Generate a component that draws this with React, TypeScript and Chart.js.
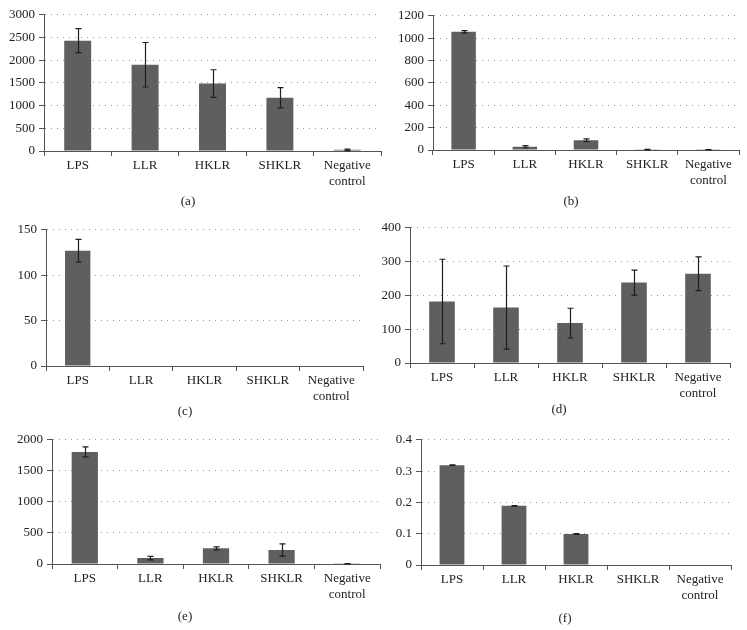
import React, { useEffect, useRef } from "react";
import { Chart, registerables } from "chart.js";

Chart.register(...registerables);

const categories = ["LPS", "LLR", "HKLR", "SHKLR", "Negative control"];

const valuesA = [2430, 1900, 1485, 1172, 25];
const errorsA = [265, 490, 305, 222, 15];
const valuesB = [1058, 30, 88, 3, 2];
const errorsB = [10, 10, 12, 2, 1];
const valuesC = [127, 0, 0, 0, 0];
const errorsC = [12.5, 0, 0, 0, 0];
const valuesD = [182, 164, 118, 238, 264];
const errorsD = [125, 123, 44, 37, 50];
const valuesE = [1805, 95, 252, 225, 3];
const errorsE = [80, 27, 24, 98, 2];
const valuesF = [0.319, 0.189, 0.099, 0, 0];
const errorsF = [0.001, 0.001, 0.001, 0, 0];

const yMax = [3000, 1200, 150, 400, 2000, 0.4];
const yStep = [500, 200, 50, 100, 500, 0.1];
const captions = ["(a)", "(b)", "(c)", "(d)", "(e)", "(f)"];

const FONT = "'Liberation Serif', 'DejaVu Serif', 'Times New Roman', serif";

type Geo = {
  plot: { l: number; t: number; r: number; b: number };
  canvas: { x: number; y: number; w: number };
  cap: { x: number; y: number };
};

const geos: Geo[] = [
  { plot: { l: 44, t: 13, r: 381, b: 151 }, canvas: { x: 0, y: 3, w: 390 }, cap: { x: 188, y: 202 } },
  { plot: { l: 433, t: 14, r: 739, b: 150 }, canvas: { x: 390, y: 4, w: 357 }, cap: { x: 571, y: 202 } },
  { plot: { l: 46, t: 228, r: 363, b: 366 }, canvas: { x: 0, y: 218, w: 376 }, cap: { x: 185, y: 412 } },
  { plot: { l: 410, t: 226, r: 730, b: 363 }, canvas: { x: 376, y: 216, w: 371 }, cap: { x: 559, y: 410 } },
  { plot: { l: 52, t: 438, r: 380, b: 564 }, canvas: { x: 0, y: 428, w: 388 }, cap: { x: 185, y: 617 } },
  { plot: { l: 421, t: 438, r: 731, b: 565 }, canvas: { x: 388, y: 428, w: 359 }, cap: { x: 565, y: 619 } },
];

const seriesValues = [valuesA, valuesB, valuesC, valuesD, valuesE, valuesF];
const seriesErrors = [errorsA, errorsB, errorsC, errorsD, errorsE, errorsF];

const X_AXIS_H = 42;

function errorBarPlugin(errors: number[]) {
  return {
    id: "errorBars",
    afterDatasetsDraw(chart: any) {
      const ctx = chart.ctx;
      const meta = chart.getDatasetMeta(0);
      const ys = chart.scales.y;
      const vals = chart.data.datasets[0].data as number[];
      ctx.save();
      ctx.strokeStyle = "#1e1e1e";
      ctx.lineWidth = 1.2;
      meta.data.forEach((bar: any, i: number) => {
        const e = errors[i];
        if (!e) return;
        const v = vals[i];
        const x = Math.round(bar.x) + 0.5;
        const yT = ys.getPixelForValue(v + e);
        const yB = ys.getPixelForValue(Math.max(v - e, 0));
        const cw = 3;
        ctx.beginPath();
        ctx.moveTo(x, yT);
        ctx.lineTo(x, yB);
        ctx.moveTo(x - cw, yT);
        ctx.lineTo(x + cw, yT);
        ctx.moveTo(x - cw, yB);
        ctx.lineTo(x + cw, yB);
        ctx.stroke();
      });
      ctx.restore();
    },
  };
}

function captionPlugin(text: string, x: number, y: number) {
  return {
    id: "caption",
    afterDraw(chart: any) {
      const ctx = chart.ctx;
      ctx.save();
      ctx.fillStyle = "#222";
      ctx.font = `13px ${FONT}`;
      ctx.textAlign = "center";
      ctx.textBaseline = "middle";
      ctx.fillText(text, x, y);
      ctx.restore();
    },
  };
}

function Panel({ idx }: { idx: number }) {
  const ref = useRef<HTMLCanvasElement | null>(null);
  const g = geos[idx];
  const h = g.cap.y + 12 - g.canvas.y;
  useEffect(() => {
    if (!ref.current) return;
    const yW = g.plot.l - g.canvas.x;
    const padR = g.canvas.x + g.canvas.w - g.plot.r;
    const padT = g.plot.t - g.canvas.y;
    const padB = g.canvas.y + h - (g.plot.b + X_AXIS_H);
    const chart = new Chart(ref.current, {
      type: "bar",
      data: {
        labels: categories.map((c) => (c.includes(" ") ? c.split(" ") : c)) as any,
        datasets: [
          {
            data: seriesValues[idx],
            backgroundColor: "#5f5f5f",
            borderWidth: 0,
            barPercentage: 0.4,
            categoryPercentage: 1,
          },
        ],
      },
      options: {
        animation: false,
        responsive: false,
        maintainAspectRatio: false,
        devicePixelRatio: 1,
        layout: { padding: { top: padT, right: padR, left: 0, bottom: padB } },
        plugins: { legend: { display: false }, tooltip: { enabled: false }, title: { display: false } },
        scales: {
          x: {
            grid: {
              display: true,
              offset: true,
              drawOnChartArea: false,
              drawTicks: true,
              tickLength: 5,
              color: "#555",
              tickColor: "#555",
            },
            border: { display: true, color: "#555", width: 1 },
            ticks: {
              font: { family: FONT, size: 13, lineHeight: 1.2 },
              color: "#222",
              padding: 2,
              maxRotation: 0,
              autoSkip: false,
            },
            afterFit: (s: any) => {
              s.height = X_AXIS_H;
            },
          },
          y: {
            min: 0,
            max: yMax[idx],
            ticks: {
              stepSize: yStep[idx],
              font: { family: FONT, size: 13 },
              color: "#222",
              padding: 4,
              callback: (v: any) => String(Number(Number(v).toPrecision(10))),
            },
            grid: {
              color: (c: any) => (c.tick && c.tick.value === 0 ? "rgba(0,0,0,0)" : "#9a9a9a"),
              tickColor: "#555",
              tickLength: 5,
              tickBorderDash: [],
              lineWidth: 1,
            },
            border: { display: true, color: "#555", width: 1, dash: [1, 5] },
            afterFit: (s: any) => {
              s.width = yW;
            },
          },
        },
      } as any,
      plugins: [
        errorBarPlugin(seriesErrors[idx]),
        captionPlugin(captions[idx], g.cap.x - g.canvas.x, g.cap.y - g.canvas.y),
      ],
    });
    return () => chart.destroy();
  }, [idx]);
  return (
    <canvas
      ref={ref}
      width={g.canvas.w}
      height={h}
      style={{ position: "absolute", left: g.canvas.x, top: g.canvas.y, width: g.canvas.w, height: h }}
    />
  );
}

export default function App() {
  return (
    <div style={{ position: "absolute", left: 0, top: 0, width: 747, height: 630, background: "#fff" }}>
      {geos.map((_, i) => (
        <Panel key={i} idx={i} />
      ))}
    </div>
  );
}
